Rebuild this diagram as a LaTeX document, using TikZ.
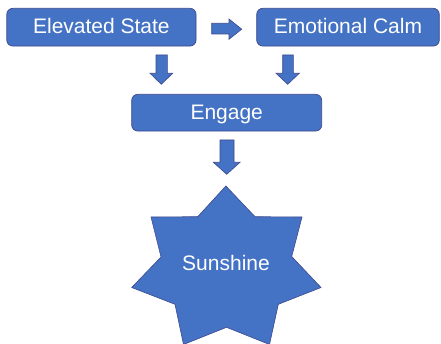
\documentclass[tikz,border=0pt]{standalone}
\usepackage{fontspec}
\setmainfont{Liberation Sans}
\definecolor{boxfill}{HTML}{4472C4}
\definecolor{boxline}{RGB}{62,72,140}
\begin{document}
\begin{tikzpicture}[x=1pt,y=-1pt,
  box/.style={draw=boxline, line width=0.7pt, fill=boxfill, rounded corners=6pt,
    text=white, font=\fontsize{21}{25}\selectfont, inner sep=0pt,
    text height=15pt, text depth=2pt},
  blk/.style={draw=boxline, line width=0.6pt, fill=boxfill, line join=miter}]
\useasboundingbox (0,0) rectangle (441,344);
\clip (0,0) rectangle (441,344);
\node[box, minimum width=189.3pt, minimum height=37.7pt] (es) at (101.4,27.2) {Elevated State};
\node[box, minimum width=182.6pt, minimum height=37.7pt] (ec) at (348,27.2) {Emotional Calm};
\node[box, minimum width=190pt, minimum height=36.7pt] (en) at (226.7,112.7) {Engage};
% block arrows
\filldraw[blk] (211.7,23.3) -- (229,23.3) -- (229,19) -- (241.7,29.2) -- (229,39.3) -- (229,34) -- (211.7,34) -- cycle;
\filldraw[blk] (156,55) -- (167.3,55) -- (167.3,73.3) -- (172.7,73.3) -- (161.3,84.3) -- (150,73.3) -- (156,73.3) -- cycle;
\filldraw[blk] (282.7,55) -- (293.3,55) -- (293.3,73.3) -- (299.3,73.3) -- (287.7,84.3) -- (276,73.3) -- (282.7,73.3) -- cycle;
\filldraw[blk] (220,140) -- (234,140) -- (234,162.3) -- (240,162.3) -- (226.7,174.3) -- (213.3,162.3) -- (220,162.3) -- cycle;
% star
\filldraw[blk] (225.9,186) -- (255,216.7) -- (302,217) -- (291.7,256.5) -- (321,287.5)
  -- (278.3,304.3) -- (269.5,344.5) -- (226.5,327.3) -- (183.5,344.5) -- (175,304.3)
  -- (131.7,287.5) -- (161,257) -- (151,217) -- (197.7,216.7) -- cycle;
\node[text=white, font=\fontsize{21}{25}\selectfont, inner sep=0pt, text height=15pt, text depth=2pt] (sun) at (226,263.8) {Sunshine};
\end{tikzpicture}
\end{document}
